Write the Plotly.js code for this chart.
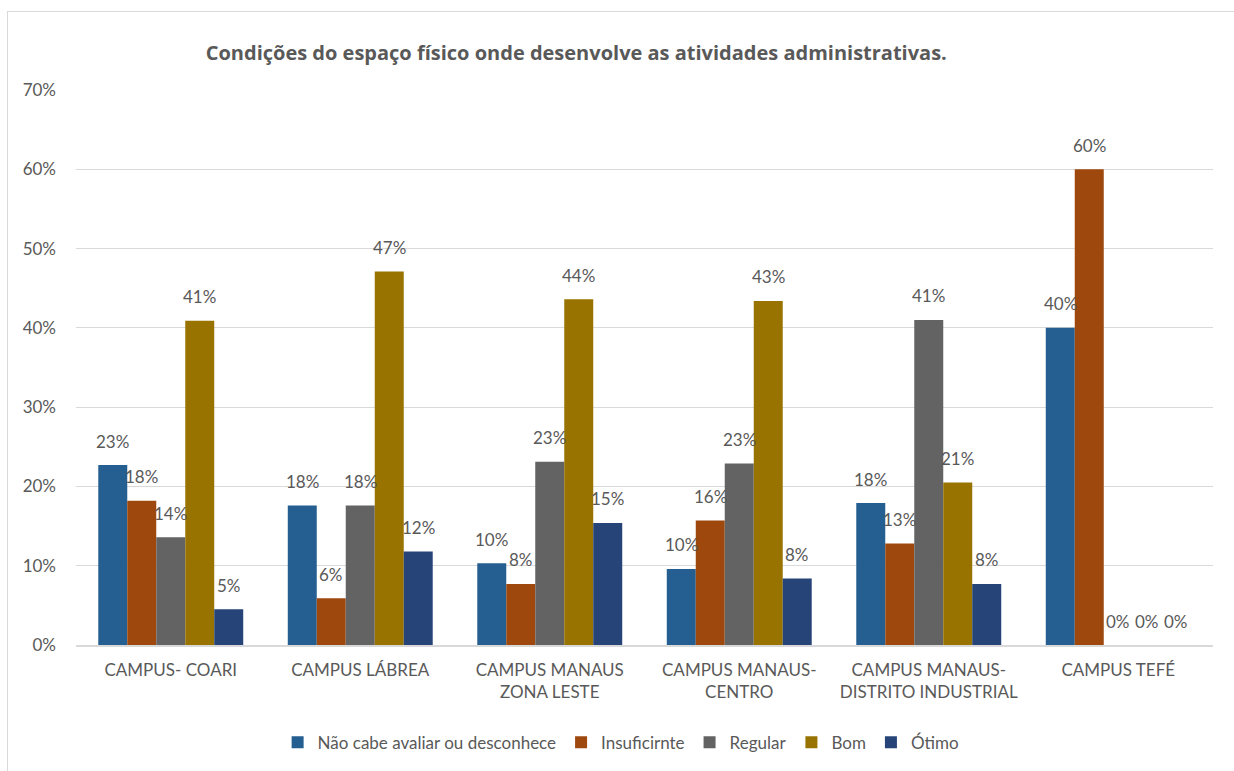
<!DOCTYPE html>
<html>
<head>
<meta charset="utf-8">
<script src="https://cdn.plot.ly/plotly-3.0.1.min.js"></script>
<style>
html,body{margin:0;padding:0;background:#fff;}
#frame{position:absolute;left:7px;top:11px;width:1240px;height:780px;border:1px solid #d9d9d9;box-sizing:border-box;}
#chart{position:absolute;left:0;top:0;width:1234px;height:771px;}
</style>
</head>
<body>
<div id="frame"></div>
<div id="chart"></div>
<script>
const categories = ["CAMPUS- COARI", "CAMPUS LÁBREA", "CAMPUS MANAUS<br>ZONA LESTE", "CAMPUS MANAUS-<br>CENTRO", "CAMPUS MANAUS-<br>DISTRITO INDUSTRIAL", "CAMPUS TEFÉ"];
const seriesNames = ["Não cabe avaliar ou desconhece", "Insuficirnte", "Regular", "Bom", "Ótimo"];
const naoCabe     = [0.227, 0.176, 0.103, 0.096, 0.179, 0.40];
const insuficiente= [0.182, 0.059, 0.077, 0.157, 0.128, 0.60];
const regular     = [0.136, 0.176, 0.231, 0.229, 0.410, 0.00];
const bom         = [0.409, 0.471, 0.436, 0.434, 0.205, 0.00];
const otimo       = [0.045, 0.118, 0.154, 0.084, 0.077, 0.00];
const colors = ["#255e91", "#9e480e", "#636363", "#997300", "#264478"];
const allSeries = [naoCabe, insuficiente, regular, bom, otimo];

const font = "Lato, 'Open Sans', sans-serif";
const titleFont = "'Open Sans', sans-serif";
const txtColor = "#595959";
const bargap = 0.235;
const groupW = 1 - bargap;
const barW = groupW / allSeries.length;

const traces = allSeries.map((vals, i) => ({
  type: "bar",
  name: seriesNames[i],
  x: categories,
  y: vals,
  marker: {color: colors[i], line: {width: 0}},
  hoverinfo: "skip"
}));

// data labels placed over each bar
const annotations = [];
allSeries.forEach((vals, i) => {
  vals.forEach((v, j) => {
    annotations.push({
      x: j - groupW / 2 + barW * (i + 0.5),
      y: v, xref: "x", yref: "y",
      text: Math.round(v * 100) + "%",
      showarrow: false, yanchor: "middle", yshift: 24,
      font: {family: font, size: 17, color: txtColor}
    });
  });
});

const layout = {
  width: 1234, height: 771,
  margin: {l: 76, r: 21, t: 90, b: 125},
  paper_bgcolor: "rgba(0,0,0,0)",
  plot_bgcolor: "rgba(0,0,0,0)",
  barmode: "group",
  bargap: bargap,
  bargroupgap: 0,
  font: {family: font, size: 17, color: txtColor},
  title: {
    text: "<b>Condições do espaço físico onde desenvolve as atividades administrativas.</b>",
    font: {family: titleFont, size: 20, color: txtColor},
    xref: "paper", x: 0.44, xanchor: "center",
    yref: "container", y: 0.931, yanchor: "middle"
  },
  xaxis: {
    showgrid: false, zeroline: false, showline: true,
    linecolor: "#d9d9d9", linewidth: 1.5,
    ticks: "", ticklabelstandoff: 9,
    tickfont: {family: font, size: 17, color: txtColor}
  },
  yaxis: {
    range: [0, 0.7], dtick: 0.1, tickformat: ".0%",
    showgrid: true, gridcolor: "#d9d9d9", gridwidth: 1,
    zeroline: false, showline: false, ticks: "",
    ticklabelstandoff: 19,
    tickfont: {family: font, size: 17, color: txtColor}
  },
  annotations: annotations,
  showlegend: true,
  legend: {
    orientation: "h", x: 0.479, xanchor: "center",
    y: -0.174, yanchor: "middle",
    font: {family: font, size: 17, color: txtColor},
    itemwidth: 30, traceorder: "normal"
  }
};

Plotly.newPlot("chart", traces, layout, {displayModeBar: false, staticPlot: true});
</script>
</body>
</html>
